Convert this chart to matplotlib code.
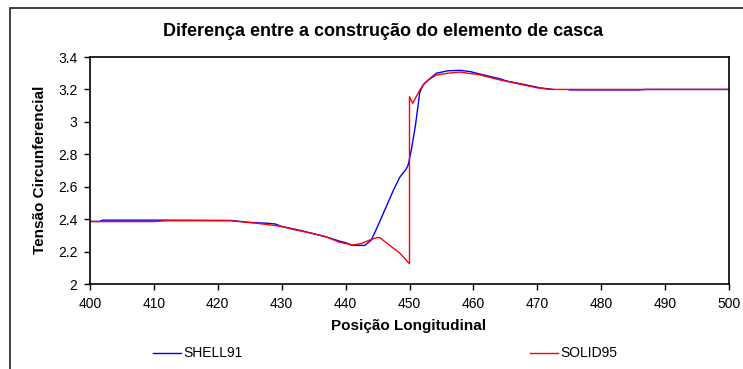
import numpy as np
import matplotlib
matplotlib.use("Agg")
import matplotlib.pyplot as plt
from matplotlib.lines import Line2D
from matplotlib.patches import Rectangle

plt.rcParams['font.family'] = ['Liberation Sans', 'DejaVu Sans']

# SHELL91 series
shell_x = [400, 401.5, 402, 410, 422, 425, 428, 429, 430, 433, 435, 437, 439, 440,
           441, 443, 444, 444.6, 445.4, 446.5, 447.5, 448.5, 449.5, 449.8, 450.3,
           450.9, 451.1, 451.6, 452.1, 453, 454.2, 456, 457.9, 459.5, 461, 464.2,
           465.2, 468, 470.4, 472.5, 473.5, 475, 486, 487, 500]
shell_y = [2.386, 2.386, 2.394, 2.394, 2.392, 2.38, 2.374, 2.37, 2.355, 2.33, 2.31,
           2.29, 2.265, 2.255, 2.238, 2.238, 2.27, 2.32, 2.39, 2.49, 2.58, 2.66, 2.71,
           2.735, 2.83, 2.97, 3.03, 3.18, 3.227, 3.26, 3.30, 3.315, 3.318, 3.31, 3.295,
           3.265, 3.252, 3.23, 3.21, 3.20, np.nan, 3.197, 3.197, 3.2, 3.2]

# SOLID95 series
solid_x = [400, 410, 412, 422, 426, 429.7, 432, 435, 437, 439, 441.2, 442.5, 444, 445,
           445.4, 446.5, 448.5, 450.0, 450.0, 450.5, 451.6, 452.4, 453, 454.2, 456,
           457.9, 461, 464.2, 467, 470, 472, 500]
solid_y = [2.385, 2.385, 2.39, 2.39, 2.375, 2.357, 2.335, 2.31, 2.29, 2.258, 2.24, 2.25,
           2.275, 2.287, 2.285, 2.25, 2.19, 2.125, 3.155, 3.114, 3.196, 3.24, 3.26,
           3.289, 3.30, 3.307, 3.29, 3.258, 3.235, 3.21, 3.20, 3.20]

x_ticks = list(range(400, 501, 10))
y_ticks = [2, 2.2, 2.4, 2.6, 2.8, 3, 3.2, 3.4]
y_tick_labels = ["2", "2.2", "2.4", "2.6", "2.8", "3", "3.2", "3.4"]

W, H = 743, 369
fig = plt.figure(figsize=(W / 100, H / 100), dpi=100)
fig.patch.set_facecolor("white")

# outer chart frame
fig.add_artist(Rectangle((10 / W, -0.05), 1.0, 1 - 8 / H + 0.05,
                         transform=fig.transFigure, fill=False,
                         edgecolor="#333333", linewidth=1.3))

ax = fig.add_axes([90 / W, 1 - 284 / H, (729 - 90) / W, (284 - 57) / H])
ax.plot(shell_x, shell_y, color="#0000ff", linewidth=1.0)
ax.plot(solid_x, solid_y, color="#ff0000", linewidth=1.0)

ax.set_xlim(400, 500)
ax.set_ylim(2, 3.4)
ax.set_xticks(x_ticks)
ax.set_xticklabels([str(t) for t in x_ticks], fontsize=10)
ax.set_yticks(y_ticks)
ax.set_yticklabels(y_tick_labels, fontsize=10)
ax.tick_params(direction="out", length=4, width=1.0, pad=5)
for s in ax.spines.values():
    s.set_linewidth(1.2)
    s.set_color("black")

fig.text(383 / W, 1 - 32 / H, "Diferença entre a construção do elemento de casca",
         ha="center", va="center", fontsize=13, fontweight="bold")
fig.text(409 / W, 1 - 326 / H, "Posição Longitudinal",
         ha="center", va="center", fontsize=11, fontweight="bold")
fig.text(40 / W, 1 - 170 / H, "Tensão Circunferencial", rotation=90,
         ha="center", va="center", fontsize=11, fontweight="bold")

# legend entries below the plot
for x0, color, label in [(153, "#0000ff", "SHELL91"), (530, "#ff0000", "SOLID95")]:
    fig.add_artist(Line2D([x0 / W, (x0 + 28) / W], [1 - 353 / H] * 2,
                          transform=fig.transFigure, color=color, linewidth=1.0))
    fig.text((x0 + 30) / W, 1 - 353 / H, label, ha="left", va="center", fontsize=10)

fig.savefig("out.png", dpi=100)
